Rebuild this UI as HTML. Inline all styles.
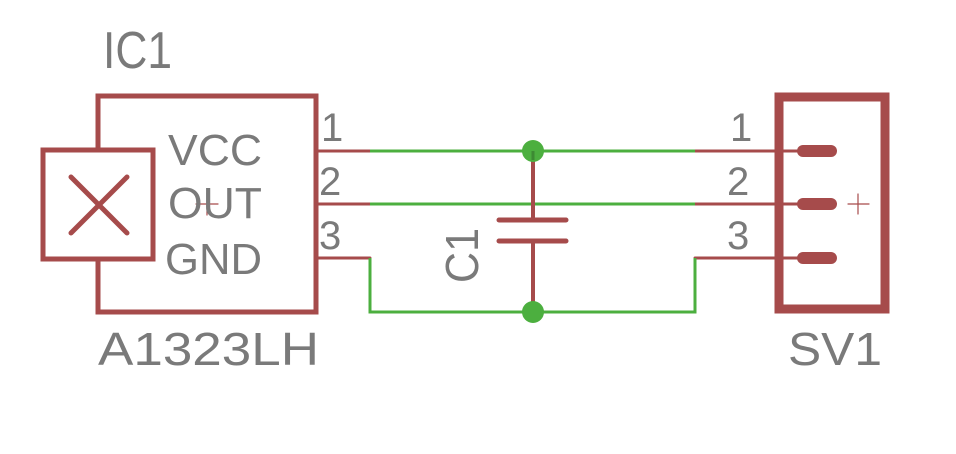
<!DOCTYPE html>
<html><head><style>html,body{margin:0;padding:0;background:#fff;}svg{display:block}</style></head>
<body>
<svg width="956" height="454" viewBox="0 0 956 454" xmlns="http://www.w3.org/2000/svg" font-family="Liberation Sans, sans-serif" fill="#7a7a7a">
<g stroke="#a64b4b" fill="none" stroke-linecap="round">
<rect x="98" y="96" width="218" height="216" stroke-width="5"/>
<rect x="43" y="150" width="110" height="109" stroke-width="5" fill="#fff"/>
<line x1="71" y1="177" x2="127" y2="233" stroke-width="5"/>
<line x1="127" y1="177" x2="71" y2="233" stroke-width="5"/>
<line x1="196" y1="204" x2="218" y2="204" stroke-width="1.2"/>
<line x1="207" y1="193" x2="207" y2="215" stroke-width="1.2"/>
<line x1="318" y1="151" x2="370" y2="151" stroke-width="3"/>
<line x1="318" y1="204" x2="370" y2="204" stroke-width="3"/>
<line x1="318" y1="258" x2="370" y2="258" stroke-width="3"/>
<rect x="779" y="97" width="106" height="212" stroke-width="9"/>
<line x1="695" y1="151" x2="800" y2="151" stroke-width="3"/>
<line x1="695" y1="204" x2="800" y2="204" stroke-width="3"/>
<line x1="695" y1="258" x2="800" y2="258" stroke-width="3"/>
<line x1="803" y1="151" x2="831" y2="151" stroke-width="12"/>
<line x1="803" y1="204" x2="831" y2="204" stroke-width="12"/>
<line x1="803" y1="258" x2="831" y2="258" stroke-width="12"/>
<line x1="848" y1="204" x2="869" y2="204" stroke-width="1.2"/>
<line x1="858" y1="194" x2="858" y2="214" stroke-width="1.2"/>
</g>
<g stroke="#4caf3f" fill="none" stroke-width="3">
<line x1="370" y1="151" x2="695" y2="151"/>
<line x1="370" y1="204" x2="695" y2="204"/>
<polyline points="370,258 370,312 695,312 695,258"/>
</g>
<g stroke="#a64b4b" stroke-width="4" stroke-linecap="round">
<line x1="533" y1="151" x2="533" y2="220"/>
<line x1="533" y1="241" x2="533" y2="312"/>
<line x1="499" y1="220" x2="566" y2="220" stroke-width="5"/>
<line x1="499" y1="241" x2="566" y2="241" stroke-width="5"/>
</g>
<circle cx="533" cy="151" r="11" fill="#4caf3f"/>
<circle cx="533" cy="312" r="11" fill="#4caf3f"/>
<line x1="533" y1="151" x2="533" y2="160" stroke="#3d8a33" stroke-width="3"/>
<text x="103" y="68" font-size="52" textLength="69" lengthAdjust="spacingAndGlyphs">IC1</text>
<text x="168" y="165" font-size="44" textLength="94" lengthAdjust="spacingAndGlyphs">VCC</text>
<text x="168" y="218" font-size="44" textLength="94" lengthAdjust="spacingAndGlyphs">OUT</text>
<text x="165" y="274" font-size="44" textLength="97" lengthAdjust="spacingAndGlyphs">GND</text>
<text x="321" y="141" font-size="40">1</text>
<text x="319" y="195" font-size="40">2</text>
<text x="319" y="249" font-size="40">3</text>
<text x="730" y="141" font-size="40">1</text>
<text x="727" y="195" font-size="40">2</text>
<text x="727" y="249" font-size="40">3</text>
<text x="98" y="365" font-size="46" textLength="221" lengthAdjust="spacingAndGlyphs">A1323LH</text>
<text x="788" y="365" font-size="46" textLength="94" lengthAdjust="spacingAndGlyphs">SV1</text>
<text transform="translate(478,283) rotate(-90)" font-size="46" textLength="55" lengthAdjust="spacingAndGlyphs">C1</text>
</svg>
</body></html>
